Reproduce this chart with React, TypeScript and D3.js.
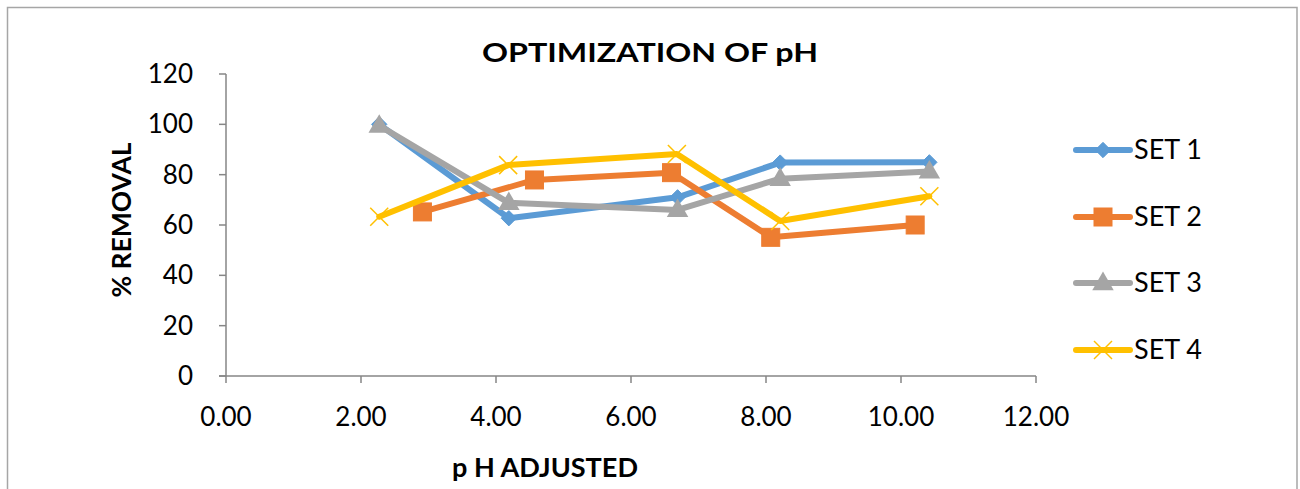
import React from "react";
import * as d3 from "d3";

const seriesNames = ["SET 1", "SET 2", "SET 3", "SET 4"];
const set1X = [2.27, 4.19, 6.69, 8.21, 10.42];
const set1Y = [100, 62.7, 71.0, 84.8, 84.9];
const set2X = [2.91, 4.57, 6.6, 8.07, 10.21];
const set2Y = [65.2, 77.9, 80.8, 55.1, 60.0];
const set3X = [2.27, 4.19, 6.69, 8.21, 10.42];
const set3Y = [99.5, 68.8, 66.0, 78.4, 81.3];
const set4X = [2.27, 4.18, 6.68, 8.21, 10.42];
const set4Y = [63.3, 83.8, 88.2, 61.6, 71.4];
const xTicks = [0, 2, 4, 6, 8, 10, 12];
const yTicks = [0, 20, 40, 60, 80, 100, 120];
const colors = ["#5B9BD5", "#ED7D31", "#A5A5A5", "#FFC000"];
const markers = ["diamond", "square", "triangle", "x"];

const FONT = "Lato, 'Open Sans', sans-serif";

function Marker({ type, x, y, color }: { type: string; x: number; y: number; color: string }) {
  if (type === "diamond") {
    const s = d3.symbol().type(d3.symbolDiamond2).size(150)();
    return <path d={s as string} transform={`translate(${x},${y})`} fill={color} stroke={color} strokeWidth={1} />;
  }
  if (type === "square") {
    return <rect x={x - 9} y={y - 9} width={18} height={18} fill={color} stroke={color} strokeWidth={1} />;
  }
  if (type === "triangle") {
    const s = d3.symbol().type(d3.symbolTriangle).size(200)();
    return <path d={s as string} transform={`translate(${x},${y + 1})`} fill={color} />;
  }
  const r = 9;
  return (
    <g stroke={color} strokeWidth={1.5}>
      <line x1={x - r} y1={y - r} x2={x + r} y2={y + r} />
      <line x1={x - r} y1={y + r} x2={x + r} y2={y - r} />
    </g>
  );
}

export default function App() {
  const x = d3.scaleLinear().domain([0, 12]).range([226, 1036]);
  const y = d3.scaleLinear().domain([0, 120]).range([376, 74]);
  const data = [
    set1X.map((v, i) => [v, set1Y[i]]),
    set2X.map((v, i) => [v, set2Y[i]]),
    set3X.map((v, i) => [v, set3Y[i]]),
    set4X.map((v, i) => [v, set4Y[i]]),
  ] as [number, number][][];
  const line = d3
    .line<[number, number]>()
    .x((d) => x(d[0]))
    .y((d) => y(d[1]));
  const axisColor = "#868686";
  const legendY = [150, 217, 283, 350];

  return (
    <svg width={1300} height={489} style={{ position: "absolute", left: 0, top: 0, background: "#fff" }} fontFamily={FONT}>
      <rect x={7.5} y={7.5} width={1289.5} height={500} fill="#fff" stroke="#a6a6a6" strokeWidth={1.5} />
      <text x={650} y={62} textAnchor="middle" fontSize={27} fontWeight="bold" fill="#000" textLength={336} lengthAdjust="spacingAndGlyphs">
        OPTIMIZATION OF pH
      </text>
      {/* y axis */}
      <line x1={226} x2={226} y1={y(120)} y2={y(0)} stroke={axisColor} strokeWidth={1.5} />
      {yTicks.map((t) => (
        <g key={"y" + t}>
          <line x1={219} x2={226} y1={y(t)} y2={y(t)} stroke={axisColor} strokeWidth={1.5} />
          <text x={193} y={y(t)} dy="0.35em" textAnchor="end" fontSize={26} fill="#000">
            {t}
          </text>
        </g>
      ))}
      {/* x axis */}
      <line x1={x(0) - 7} x2={x(12)} y1={376} y2={376} stroke={axisColor} strokeWidth={1.5} />
      {xTicks.map((t) => (
        <g key={"x" + t}>
          <line x1={x(t)} x2={x(t)} y1={376} y2={383} stroke={axisColor} strokeWidth={1.5} />
          <text x={x(t)} y={426} textAnchor="middle" fontSize={26} fill="#000">
            {t.toFixed(2)}
          </text>
        </g>
      ))}
      <text x={545} y={477} textAnchor="middle" fontSize={26} fontWeight="bold" fill="#000" textLength={186} lengthAdjust="spacingAndGlyphs">
        p H ADJUSTED
      </text>
      <text transform={`translate(131,220) rotate(-90)`} textAnchor="middle" fontSize={26} fontWeight="bold" fill="#000" textLength={155} lengthAdjust="spacingAndGlyphs">
        % REMOVAL
      </text>
      {data.map((pts, si) => (
        <g key={"s" + si}>
          <path d={line(pts) as string} fill="none" stroke={colors[si]} strokeWidth={6} strokeLinejoin="round" strokeLinecap="round" />
          {pts.map((p, i) => (
            <Marker key={i} type={markers[si]} x={x(p[0])} y={y(p[1])} color={colors[si]} />
          ))}
        </g>
      ))}
      {seriesNames.map((n, si) => (
        <g key={"l" + si}>
          <line x1={1076} x2={1130} y1={legendY[si]} y2={legendY[si]} stroke={colors[si]} strokeWidth={6} strokeLinecap="round" />
          <Marker type={markers[si]} x={1103} y={legendY[si]} color={colors[si]} />
          <text x={1134} y={legendY[si]} dy="0.35em" fontSize={27} fill="#000">
            {n}
          </text>
        </g>
      ))}
    </svg>
  );
}
